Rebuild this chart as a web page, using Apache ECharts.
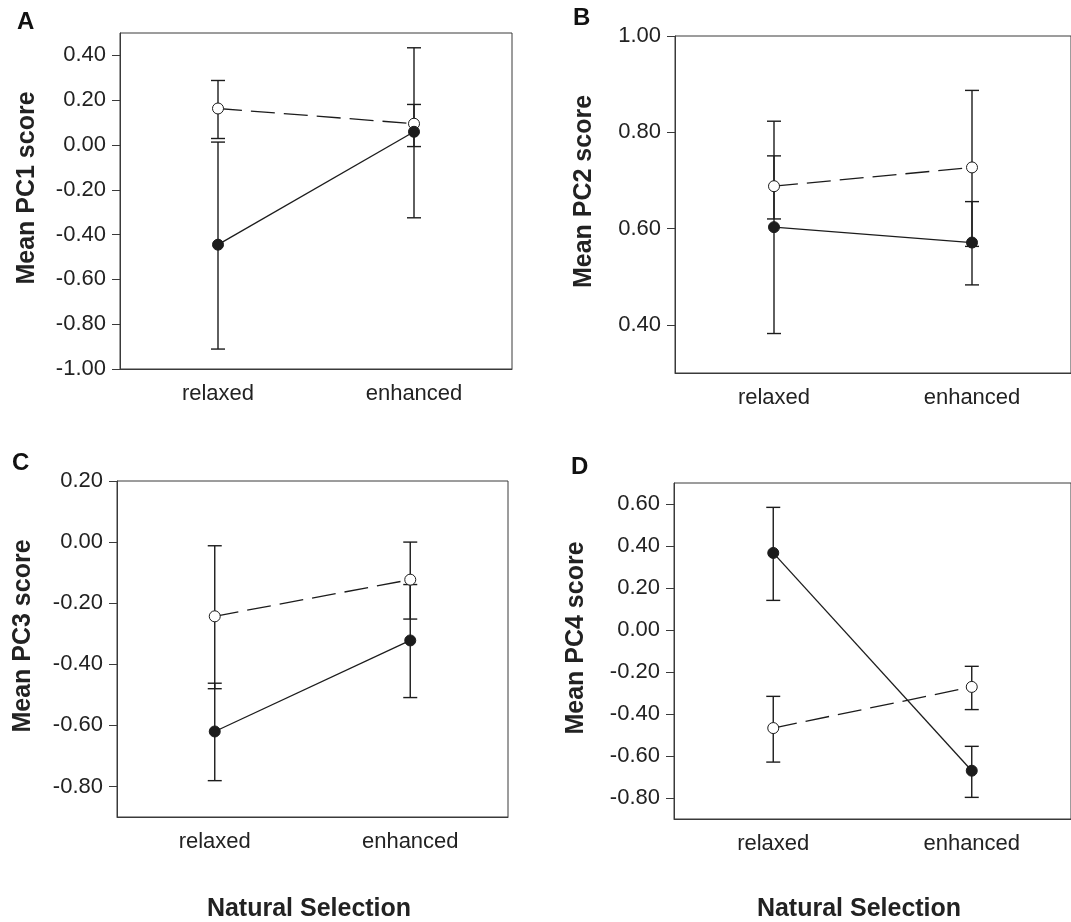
<!DOCTYPE html>
<html>
<head>
<meta charset="utf-8">
<script src="https://cdn.jsdelivr.net/npm/echarts@6/dist/echarts.min.js"></script>
<style>
  html, body { margin: 0; padding: 0; background: #fff; }
  #main { width: 1071px; height: 922px; }
</style>
</head>
<body>
<div id="main"></div>
<script>
var categories = ['relaxed', 'enhanced'];

// panel A - PC1
var pc1Open = [0.163, 0.095];
var pc1OpenErr = [[0.288, 0.029], [0.181, -0.007]];
var pc1Filled = [-0.445, 0.059];
var pc1FilledErr = [[0.013, -0.911], [0.434, -0.325]];
var pc1Ticks = [-1.0, -0.8, -0.6, -0.4, -0.2, 0.0, 0.2, 0.4];

// panel B - PC2
var pc2Open = [0.688, 0.727];
var pc2OpenErr = [[0.751, 0.620], [0.887, 0.563]];
var pc2Filled = [0.603, 0.571];
var pc2FilledErr = [[0.823, 0.382], [0.656, 0.483]];
var pc2Ticks = [0.4, 0.6, 0.8, 1.0];

// panel C - PC3
var pc3Open = [-0.243, -0.123];
var pc3OpenErr = [[-0.012, -0.480], [0.000, -0.252]];
var pc3Filled = [-0.620, -0.322];
var pc3FilledErr = [[-0.462, -0.781], [-0.139, -0.509]];
var pc3Ticks = [-0.8, -0.6, -0.4, -0.2, 0.0, 0.2];

// panel D - PC4
var pc4Open = [-0.467, -0.271];
var pc4OpenErr = [[-0.316, -0.629], [-0.173, -0.379]];
var pc4Filled = [0.367, -0.670];
var pc4FilledErr = [[0.584, 0.141], [-0.554, -0.797]];
var pc4Ticks = [-0.8, -0.6, -0.4, -0.2, 0.0, 0.2, 0.4, 0.6];

var panels = [
    {name: 'Mean PC1 score', open: pc1Open, openErr: pc1OpenErr, filled: pc1Filled, filledErr: pc1FilledErr, ticks: pc1Ticks, min: -1.0, max: 0.5,
     grid: {left: 120, top: 33, width: 392, height: 336}, gap: 80},
    {name: 'Mean PC2 score', open: pc2Open, openErr: pc2OpenErr, filled: pc2Filled, filledErr: pc2FilledErr, ticks: pc2Ticks, min: 0.3, max: 1.0,
     grid: {left: 675, top: 36, width: 398, height: 337}, gap: 78},
    {name: 'Mean PC3 score', open: pc3Open, openErr: pc3OpenErr, filled: pc3Filled, filledErr: pc3FilledErr, ticks: pc3Ticks, min: -0.9, max: 0.2,
     grid: {left: 117, top: 481, width: 391, height: 336}, gap: 81},
    {name: 'Mean PC4 score', open: pc4Open, openErr: pc4OpenErr, filled: pc4Filled, filledErr: pc4FilledErr, ticks: pc4Ticks, min: -0.9, max: 0.7,
     grid: {left: 674, top: 483, width: 400, height: 336}, gap: 85}
];

var font = '"Liberation Sans", Arial, Helvetica, sans-serif';
var ink = '#1c1c1c';
var axisColor = '#3a3a3a';

function errorBars(api) {
    var x = api.value(0);
    var hi = api.coord([x, api.value(1)]);
    var lo = api.coord([x, api.value(2)]);
    var half = 7;
    var style = {stroke: ink, lineWidth: 1.4};
    return {
        type: 'group',
        children: [
            {type: 'line', shape: {x1: hi[0], y1: hi[1], x2: lo[0], y2: lo[1]}, style: style},
            {type: 'line', shape: {x1: hi[0] - half, y1: hi[1], x2: hi[0] + half, y2: hi[1]}, style: style},
            {type: 'line', shape: {x1: lo[0] - half, y1: lo[1], x2: lo[0] + half, y2: lo[1]}, style: style}
        ]
    };
}

var grids = [], xAxes = [], yAxes = [], series = [];
panels.forEach(function(p, i) {
    grids.push(Object.assign({show: true, borderColor: axisColor, borderWidth: 1, backgroundColor: 'transparent'}, p.grid));
    xAxes.push({
        type: 'category', gridIndex: i, data: categories, boundaryGap: true,
        axisLine: {onZero: false, lineStyle: {color: axisColor, width: 1}},
        axisTick: {alignWithLabel: true, length: 10, lineStyle: {color: axisColor}},
        axisLabel: {color: '#222', fontSize: 22, fontFamily: font, margin: 14},
        splitLine: {show: false}
    });
    yAxes.push({
        type: 'value', gridIndex: i, min: p.min, max: p.max,
        name: p.name, nameLocation: 'middle', nameGap: p.gap,
        nameTextStyle: {fontSize: 25, fontWeight: 'bold', color: '#222', fontFamily: font, padding: [0, 0, 0, 26]},
        axisLine: {show: true, onZero: false, lineStyle: {color: axisColor, width: 1}},
        axisTick: {show: true, length: 8, customValues: p.ticks, lineStyle: {color: axisColor}},
        axisLabel: {color: '#222', fontSize: 22, fontFamily: font, margin: 14, customValues: p.ticks,
            formatter: function(v) { return v.toFixed(2); }},
        splitLine: {show: false}
    });
    series.push({
        type: 'custom', xAxisIndex: i, yAxisIndex: i, renderItem: function(params, api) { return errorBars(api); },
        data: p.openErr.map(function(e, k) { return [k, e[0], e[1]]; }), z: 2, silent: true
    });
    series.push({
        type: 'custom', xAxisIndex: i, yAxisIndex: i, renderItem: function(params, api) { return errorBars(api); },
        data: p.filledErr.map(function(e, k) { return [k, e[0], e[1]]; }), z: 2, silent: true
    });
    series.push({
        type: 'line', xAxisIndex: i, yAxisIndex: i, data: p.open, z: 3,
        symbol: 'circle', symbolSize: 11, showSymbol: true,
        lineStyle: {color: ink, width: 1.3, type: [24, 9]},
        itemStyle: {color: '#fff', borderColor: ink, borderWidth: 1}
    });
    series.push({
        type: 'line', xAxisIndex: i, yAxisIndex: i, data: p.filled, z: 4,
        symbol: 'circle', symbolSize: 11, showSymbol: true,
        lineStyle: {color: ink, width: 1.3},
        itemStyle: {color: ink, borderColor: ink, borderWidth: 1}
    });
});

var letters = [['A', 17, 10], ['B', 573, 6], ['C', 12, 451], ['D', 571, 455]];
var graphics = letters.map(function(l) {
    return {type: 'text', left: l[1], top: l[2], style: {text: l[0], font: 'bold 24px ' + font, fill: '#111'}};
});
graphics.push({type: 'text', x: 309, y: 897, style: {text: 'Natural Selection', font: 'bold 25px ' + font, fill: '#222', align: 'center'}});
graphics.push({type: 'text', x: 859, y: 897, style: {text: 'Natural Selection', font: 'bold 25px ' + font, fill: '#222', align: 'center'}});

var myChart = echarts.init(document.getElementById('main'));
var option = {
    backgroundColor: '#fff',
    animation: false,
    grid: grids,
    xAxis: xAxes,
    yAxis: yAxes,
    series: series,
    graphic: graphics
};
myChart.setOption(option);
</script>
</body>
</html>
